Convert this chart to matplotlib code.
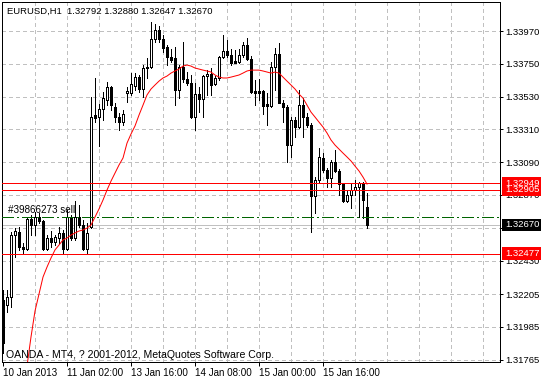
import numpy as np
import matplotlib
matplotlib.use("Agg")
import matplotlib.pyplot as plt
from matplotlib.patches import Rectangle
from matplotlib.transforms import blended_transform_factory

# EURUSD H1 bars (open, high, low, close)
opens = [1.32165, 1.32131, 1.32185, 1.32601, 1.32621, 1.32521, 1.32507, 1.32708, 1.32668, 1.32722,
         1.32695, 1.32507, 1.32581, 1.32554, 1.32581, 1.32614, 1.32507, 1.32722, 1.32581, 1.32722,
         1.32668, 1.32507, 1.32655, 1.33406, 1.33393, 1.33447, 1.33507, 1.33594, 1.33460, 1.33393,
         1.33359, 1.33554, 1.33554, 1.33601, 1.33661, 1.33581, 1.33722, 1.33728, 1.33916, 1.33977,
         1.33916, 1.33863, 1.33796, 1.33789, 1.33574, 1.33728, 1.33648, 1.33621, 1.33393, 1.33547,
         1.33514, 1.33668, 1.33681, 1.33614, 1.33655, 1.33796, 1.33836, 1.33809, 1.33769, 1.33762,
         1.33809, 1.33876, 1.33782, 1.33567, 1.33567, 1.33567, 1.33480, 1.33467, 1.33728, 1.33816,
         1.33487, 1.33460, 1.33205, 1.33373, 1.33326, 1.33474, 1.33393, 1.33339, 1.32863, 1.32970,
         1.33118, 1.33037, 1.32984, 1.33091, 1.33031, 1.32943, 1.32829, 1.32870, 1.32903, 1.32923,
         1.32950, 1.32792]
highs = [1.32232, 1.32232, 1.32621, 1.32648, 1.32655, 1.32547, 1.32722, 1.32735, 1.32755, 1.32749,
         1.32702, 1.32601, 1.32628, 1.32601, 1.32655, 1.32635, 1.32769, 1.32735, 1.32829, 1.32802,
         1.32702, 1.32682, 1.33527, 1.33655, 1.33480, 1.33561, 1.33628, 1.33601, 1.33487, 1.33420,
         1.33440, 1.33594, 1.33688, 1.33688, 1.33675, 1.33742, 1.33789, 1.34030, 1.34017, 1.34003,
         1.33943, 1.33876, 1.33850, 1.33863, 1.33742, 1.33896, 1.33695, 1.33675, 1.33621, 1.33594,
         1.33675, 1.33708, 1.33722, 1.33668, 1.33803, 1.33943, 1.33910, 1.33850, 1.33843, 1.33850,
         1.33896, 1.33923, 1.33803, 1.33641, 1.33648, 1.33574, 1.33554, 1.33762, 1.33856, 1.33889,
         1.33507, 1.33474, 1.33393, 1.33393, 1.33574, 1.33520, 1.33420, 1.33353, 1.32990, 1.33185,
         1.33152, 1.33051, 1.33104, 1.33171, 1.33044, 1.32950, 1.32903, 1.32950, 1.32970, 1.32957,
         1.32957, 1.32880]
lows = [1.31809, 1.32084, 1.32118, 1.32453, 1.32500, 1.32480, 1.32500, 1.32601, 1.32601, 1.32682,
        1.32500, 1.32500, 1.32521, 1.32535, 1.32547, 1.32480, 1.32500, 1.32568, 1.32568, 1.32655,
        1.32500, 1.32480, 1.32648, 1.33359, 1.33198, 1.33373, 1.33474, 1.33440, 1.33359, 1.33306,
        1.33339, 1.33494, 1.33541, 1.33574, 1.33561, 1.33527, 1.33655, 1.33722, 1.33896, 1.33896,
        1.33829, 1.33742, 1.33762, 1.33474, 1.33520, 1.33628, 1.33608, 1.33386, 1.33306, 1.33427,
        1.33393, 1.33541, 1.33541, 1.33608, 1.33641, 1.33789, 1.33796, 1.33742, 1.33755, 1.33755,
        1.33796, 1.33775, 1.33554, 1.33474, 1.33507, 1.33413, 1.33339, 1.33460, 1.33574, 1.33487,
        1.33359, 1.33091, 1.33125, 1.33259, 1.33319, 1.33259, 1.33326, 1.32621, 1.32749, 1.32957,
        1.33024, 1.32923, 1.32923, 1.33024, 1.32870, 1.32822, 1.32822, 1.32782, 1.32870, 1.32722,
        1.32715, 1.32647]
closes = [1.31876, 1.32185, 1.32601, 1.32628, 1.32521, 1.32507, 1.32708, 1.32668, 1.32722, 1.32695,
          1.32507, 1.32581, 1.32554, 1.32588, 1.32614, 1.32507, 1.32722, 1.32581, 1.32722, 1.32668,
          1.32507, 1.32614, 1.33393, 1.33386, 1.33447, 1.33520, 1.33594, 1.33474, 1.33393, 1.33359,
          1.33413, 1.33567, 1.33614, 1.33661, 1.33581, 1.33722, 1.33728, 1.33916, 1.33977, 1.33916,
          1.33856, 1.33796, 1.33775, 1.33574, 1.33728, 1.33648, 1.33621, 1.33393, 1.33547, 1.33514,
          1.33668, 1.33681, 1.33608, 1.33655, 1.33796, 1.33836, 1.33809, 1.33755, 1.33755, 1.33809,
          1.33876, 1.33782, 1.33561, 1.33554, 1.33554, 1.33467, 1.33467, 1.33728, 1.33816, 1.33487,
          1.33460, 1.33205, 1.33373, 1.33326, 1.33474, 1.33393, 1.33339, 1.32863, 1.32970, 1.33125,
          1.33037, 1.32984, 1.33091, 1.33031, 1.32943, 1.32829, 1.32870, 1.32903, 1.32923, 1.32950,
          1.32836, 1.32670]

# moving average (red line), starts at bar 6
ma_start = 6
ma = [1.31722, 1.31917, 1.32091, 1.32205, 1.32319, 1.32386, 1.32447, 1.32501, 1.32534, 1.32568,
      1.32581, 1.32601, 1.32615, 1.32628, 1.32635, 1.32648, 1.32668, 1.32722, 1.32776, 1.32836,
      1.32903, 1.32963, 1.33017, 1.33071, 1.33118, 1.33218, 1.33279, 1.33333, 1.33406, 1.33473,
      1.33541, 1.33581, 1.33608, 1.33634, 1.33655, 1.33668, 1.33688, 1.33702, 1.33715, 1.33735,
      1.33742, 1.33735, 1.33722, 1.33715, 1.33708, 1.33702, 1.33695, 1.33675, 1.33661, 1.33655,
      1.33655, 1.33661, 1.33668, 1.33675, 1.33688, 1.33702, 1.33708, 1.33708, 1.33708, 1.33702,
      1.33695, 1.33688, 1.33695, 1.33688, 1.33661, 1.33634, 1.33608, 1.33581, 1.33547, 1.33520,
      1.33473, 1.33426, 1.33393, 1.33359, 1.33326, 1.33286, 1.33239, 1.33205, 1.33178, 1.33151,
      1.33125, 1.33098, 1.33064, 1.33031, 1.32990, 1.32943]

# the 1.32650 label sits fully under the bid box, so it is left blank
y_ticks = [1.33970, 1.33750, 1.33530, 1.33310, 1.33090, 1.32870, 1.32650, 1.32430, 1.32205, 1.31985, 1.31765]
y_labels = ["1.33970", "1.33750", "1.33530", "1.33310", "1.33090", "1.32870", "",
            "1.32430", "1.32205", "1.31985", "1.31765"]
x_ticks = [0, 16, 32, 48, 64, 80]
x_labels = ["10 Jan 2013", "11 Jan 02:00", "13 Jan 16:00", "14 Jan 08:00", "15 Jan 00:00", "15 Jan 16:00"]

red_levels = [1.32949, 1.32905, 1.32477]
bid = 1.32670
order_price = 1.32722
order_label = "#39866273 sell"
header = "EURUSD,H1  1.32792 1.32880 1.32647 1.32670"
footer = "OANDA - MT4, ? 2001-2012, MetaQuotes Software Corp."

plt.rcParams['font.family'] = ['Liberation Sans', 'DejaVu Sans']
fs = 6.8
px = 0.72  # one pixel in points

fig = plt.figure(figsize=(5.41, 3.80), dpi=100)
ax = fig.add_axes([2 / 541, 18 / 380, 498 / 541, 360 / 380])
ax.set_xlim(-0.25, 124.25)
ax.set_ylim(1.31749, 1.34165)

# grid
for p in y_ticks:
    ax.axhline(p, color='#C0C0C0', lw=px, ls=(0, (4, 3)), zorder=1, antialiased=False)
for i in range(8, 121, 8):
    ax.axvline(i, color='#C0C0C0', lw=px, ls=(0, (4, 3)), zorder=1, antialiased=False)

# order line and label (behind candles)
ax.axhline(order_price, color='#006400', lw=px, ls=(0, (11, 4, 2, 4)), zorder=5, antialiased=False)
ax.text(1.2, order_price + 0.00012, order_label, fontsize=fs + 0.3, va='bottom', ha='left', zorder=2)
ax.axhline(bid, color='#C0C0C0', lw=px, zorder=2, antialiased=False)

# candles
x = np.arange(len(opens))
o = np.array(opens)
c = np.array(closes)
ax.vlines(x, lows, highs, color='black', lw=px, zorder=3, antialiased=False)
bull = c >= o
ax.bar(x[bull], (c - o)[bull], bottom=o[bull], width=0.5, color='white',
       edgecolor='black', linewidth=px, zorder=4, antialiased=False)
ax.bar(x[~bull], (o - c)[~bull], bottom=c[~bull], width=0.5, color='black',
       edgecolor='black', linewidth=px, zorder=4, antialiased=False)

# moving average
ax.plot(np.arange(ma_start, ma_start + len(ma)), ma, color='red', lw=px, zorder=6)

for p in red_levels:
    ax.axhline(p, color='red', lw=px, zorder=6, antialiased=False)

# axes styling
for s in ax.spines.values():
    s.set_linewidth(px)
    s.set_color('black')
ax.yaxis.tick_right()
ax.set_yticks(y_ticks)
ax.set_yticklabels(y_labels)
ax.tick_params(axis='y', direction='out', length=2.5, width=px, pad=1.5, labelsize=fs)
ax.set_xticks(x_ticks)
ax.set_xticklabels(x_labels, ha='left')
ax.tick_params(axis='x', direction='out', length=3, width=px, pad=1.5, labelsize=fs + 0.3)

# price labels on the right
tr = blended_transform_factory(ax.transAxes, ax.transData)
h = 0.00042
boxes = [(red_levels[0], 'red'), (red_levels[1], 'red'), (bid, 'black'), (red_levels[2], 'red')]
for p, col in boxes:
    ax.add_patch(Rectangle((1.004, p - h), 0.08, 2 * h, transform=tr, facecolor=col,
                           edgecolor='none', clip_on=False, zorder=10))
    ax.text(1.010, p, "%.5f" % p, transform=tr, color='white', fontsize=fs,
            va='center', ha='left', zorder=11, clip_on=False)

fig.text(7 / 541, 1 - 11 / 380, header, fontsize=fs, va='center', ha='left')
ax.text(0.008, (362 - 355) / 360, footer, transform=ax.transAxes,
        fontsize=7.6, va='center', ha='left', zorder=7)

fig.savefig("out.png", dpi=100)
